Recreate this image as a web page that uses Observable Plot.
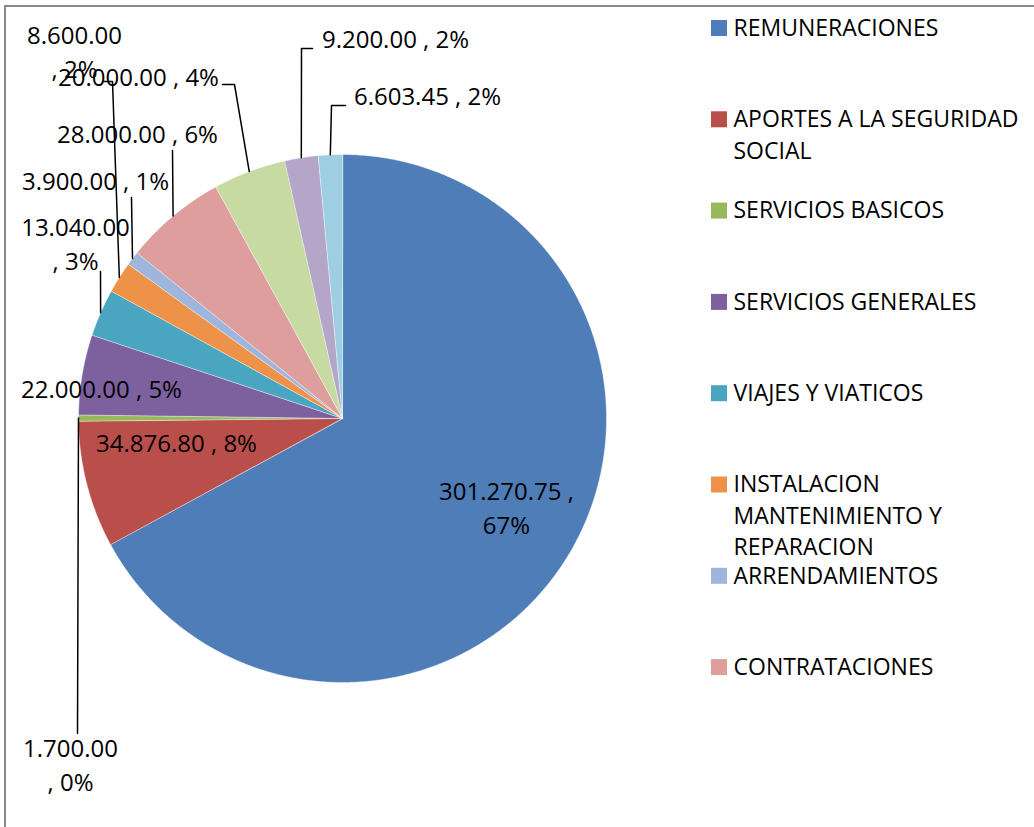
<!DOCTYPE html>
<html>
<head>
<meta charset="utf-8">
<script src="https://cdn.jsdelivr.net/npm/d3@7"></script>
<script src="https://cdn.jsdelivr.net/npm/@observablehq/plot@0.6"></script>
<style>
  body { margin: 0; background: #fff; }
  #wrap { position: relative; width: 1034px; height: 827px; overflow: hidden; background: #fff; }
  #chart { position: absolute; left: 0; top: 0; }
  #border { position: absolute; left: 4px; top: 5px; right: -10px; bottom: -10px;
            border-top: 2px solid #8a8a8a; border-left: 2px solid #8a8a8a; pointer-events: none; z-index: 2; }
</style>
</head>
<body>
<div id="wrap"><div id="chart"></div><div id="border"></div></div>
<script>
// ---- data ----
const categories = [
  "REMUNERACIONES",
  "APORTES A LA SEGURIDAD SOCIAL",
  "SERVICIOS BASICOS",
  "SERVICIOS GENERALES",
  "VIAJES Y VIATICOS",
  "INSTALACION MANTENIMIENTO Y REPARACION",
  "ARRENDAMIENTOS",
  "CONTRATACIONES",
  "", "", ""            // names not visible in the (truncated) legend
];
const values = [301270.75, 34876.80, 1700.00, 22000.00, 13040.00, 8600.00, 3900.00, 28000.00, 20000.00, 9200.00, 6603.45];
const colors = ["#4E7DB7", "#BA4E4B", "#97B95A", "#7D619F", "#4AA6C0", "#EE924A",
                "#9EB5DC", "#DE9E9D", "#C7DAA2", "#B4A5C9", "#9DCEE2"];

// ---- layout ----
const W = 1034, H = 827;
const pieCenter = [342, 418];
const pieRadius = 264;
const fontFamily = "'Open Sans', 'Noto Sans', sans-serif";
const labelFont = 24, legendFont = 23, labelLineGap = 34;
// label placement (x,y of first line's centre), how it wraps, and leader bend points
const labelLayout = [
  {i: 0,  x: 506, y: 492, wrap: "comma"},
  {i: 1,  x: 176, y: 444, wrap: "none"},
  {i: 2,  x: 70,  y: 749, wrap: "number", leader: [[77, 733]]},
  {i: 3,  x: 101, y: 390, wrap: "none"},
  {i: 4,  x: 75,  y: 228, wrap: "number", leader: [[100, 271]]},
  {i: 5,  x: 74,  y: 36,  wrap: "number", leader: [[103, 81], [112, 81]]},
  {i: 6,  x: 95,  y: 182, wrap: "none",   leader: [[131, 197]]},
  {i: 7,  x: 137, y: 135, wrap: "none",   leader: [[172, 150]]},
  {i: 8,  x: 138, y: 78,  wrap: "none",   leader: [[222, 84], [234, 84]]},
  {i: 9,  x: 395, y: 40,  wrap: "none",   leader: [[312, 48], [301, 48]]},
  {i: 10, x: 427, y: 97,  wrap: "none",   leader: [[345, 105], [331, 105]]}
];
const legendVisible = 8, legendX = 711, legendSq = 16, legendTextX = 733;
const legendTop = 28, legendStep = 91.3, legendLineH = 31.5, legendWrapChars = 22;

// ---- derived ----
const total = d3.sum(values);
const arcs = d3.pie().sort(null).value(d => d)(values);
// Excel-style percentages (largest remainder so they add up to 100)
const raw = values.map(v => v / total * 100);
const pct = raw.map(Math.floor);
let rest = 100 - d3.sum(pct);
d3.sort(d3.range(values.length), i => -(raw[i] - Math.floor(raw[i]))).slice(0, rest).forEach(i => pct[i]++);
const fmt = v => d3.format(",.2f")(v).replace(/,/g, ".");

const polar = (a, r) => [pieCenter[0] + r * Math.sin(a), pieCenter[1] - r * Math.cos(a)];

// slice polygons
const slicePts = [];
arcs.forEach((a, i) => {
  const n = Math.max(2, Math.ceil((a.endAngle - a.startAngle) / (Math.PI / 360)));
  slicePts.push({k: i, p: pieCenter, color: colors[i]});
  for (let j = 0; j <= n; j++) {
    const t = a.startAngle + (a.endAngle - a.startAngle) * j / n;
    slicePts.push({k: i, p: polar(t, pieRadius), color: colors[i]});
  }
});

// labels
const labelRows = [];
const leaderPts = [];
labelLayout.forEach(L => {
  const num = fmt(values[L.i]), p = pct[L.i] + "%";
  let lines;
  if (L.wrap === "number") lines = [num, ", " + p];
  else if (L.wrap === "comma") lines = [num + " ,", p];
  else lines = [num + " , " + p];
  lines.forEach((t, j) => labelRows.push({x: L.x, y: L.y + j * labelLineGap, t}));
  if (L.leader) {
    const a = arcs[L.i];
    const edge = polar((a.startAngle + a.endAngle) / 2, pieRadius);
    [...L.leader, edge].forEach(q => leaderPts.push({k: L.i, p: q}));
  }
});

// legend
function wrap(s, maxc) {
  const out = []; let cur = "";
  s.split(" ").forEach(w => {
    if (cur && (cur + " " + w).length > maxc) { out.push(cur); cur = w; }
    else cur = cur ? cur + " " + w : w;
  });
  if (cur) out.push(cur);
  return out;
}
const legendSquares = [], legendRows = [];
categories.slice(0, legendVisible).forEach((c, i) => {
  const y = legendTop + i * legendStep;
  legendSquares.push({y, color: colors[i]});
  wrap(c, legendWrapChars).forEach((t, j) => legendRows.push({y: y + j * legendLineH, t}));
});

const chart = Plot.plot({
  width: W, height: H, margin: 0,
  x: {domain: [0, W], range: [0, W], axis: null},
  y: {domain: [0, H], range: [0, H], axis: null},
  color: {type: "identity"},
  style: {background: "white"},
  marks: [
    Plot.line(slicePts, {x: d => d.p[0], y: d => d.p[1], z: "k", fill: "color",
      stroke: "white", strokeOpacity: 0.6, strokeWidth: 0.7, curve: "linear-closed"}),
    Plot.line(leaderPts, {x: d => d.p[0], y: d => d.p[1], z: "k", stroke: "black", strokeWidth: 1.5}),
    Plot.text(labelRows, {x: "x", y: "y", text: "t", fontSize: labelFont, fontFamily,
      fill: "black", textAnchor: "middle"}),
    Plot.rect(legendSquares, {x1: legendX, x2: legendX + legendSq,
      y1: d => d.y - legendSq / 2, y2: d => d.y + legendSq / 2, fill: "color"}),
    Plot.text(legendRows, {x: legendTextX, y: "y", text: "t", fontSize: legendFont, fontFamily,
      fill: "black", textAnchor: "start"})
  ]
});
document.getElementById("chart").appendChild(chart);
</script>
</body>
</html>
